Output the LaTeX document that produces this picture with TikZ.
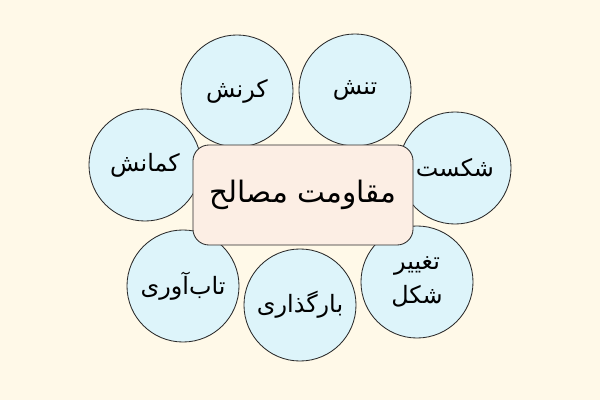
\documentclass[tikz,border=0pt]{standalone}
\usepackage{fontspec}
\newfontfamily\arabicfont[Script=Arabic]{DejaVu Sans}
\TeXXeTstate=1
\definecolor{bgcream}{HTML}{FFF9E8}
\definecolor{circfill}{HTML}{DDF4FA}
\definecolor{boxfill}{HTML}{FCEEE4}
\definecolor{edge}{HTML}{2A2A2A}
\tikzset{
  topic/.style={circle, draw=edge, line width=0.6pt, fill=circfill, minimum size=2.8cm, inner sep=0pt, align=center, font=\arabicfont\fontsize{17}{24}\selectfont},
  mainbox/.style={rectangle, rounded corners=0.4cm, draw=edge, line width=0.6pt, fill=boxfill, minimum width=5.5cm, minimum height=2.5cm, font=\arabicfont\fontsize{21}{26}\selectfont}
}
\begin{document}
\begin{tikzpicture}[x=0.025cm, y=-0.025cm]
  \fill[bgcream] (0,0) rectangle (600,400);
  \useasboundingbox (0,0) rectangle (600,400);
  % circles round the box
  \node[topic] (strain) at (237,91) {\beginR کرنش\endR};
  \node[topic] (stress) at (355,90) {\beginR تنش\endR};
  \node[topic] (buckling) at (145,165) {\beginR کمانش\endR};
  \node[topic] (fracture) at (455,168) {\beginR شکست\endR};
  \node[topic] (deform) at (417,282) {\beginR تغییر\endR\\\beginR شکل\endR};
  \node[topic] (loading) at (300,305) {\beginR بارگذاری\endR};
  \node[topic] (resilience) at (183,286) {\beginR تاب‌آوری\endR};
  % the box on top
  \node[mainbox] (strength) at (303,195) {\beginR مقاومت مصالح\endR};
\end{tikzpicture}
\end{document}
